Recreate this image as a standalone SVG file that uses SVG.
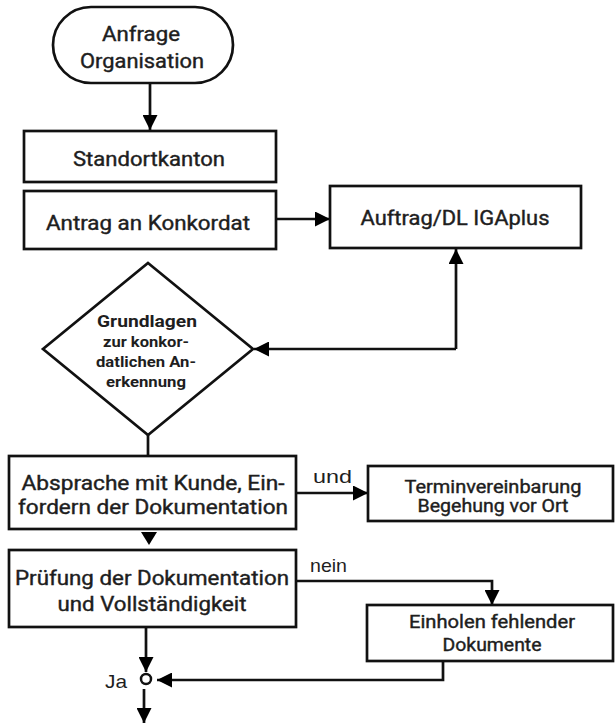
<svg xmlns="http://www.w3.org/2000/svg" width="616" height="724" viewBox="0 0 616 724">
<defs>
<style>
.box{fill:#fff;stroke:#111;stroke-width:2.7}
.t{font-family:Roboto,"Liberation Sans",sans-serif;font-size:20px;font-weight:400;fill:#1e1e1e;stroke:#1e1e1e;stroke-width:0.4;text-anchor:middle}
.s{font-size:18px}
.b{font-family:Roboto,"Liberation Sans",sans-serif;font-weight:bold;fill:#1e1e1e;text-anchor:middle}
.lab{font-family:"Liberation Sans",Arial,sans-serif;font-size:19px;fill:#1e1e1e}
.c{fill:none;stroke:#111;stroke-width:2.7}
</style>
<marker id="ah" markerUnits="userSpaceOnUse" markerWidth="15" markerHeight="15" refX="15" refY="7.5" orient="auto" viewBox="0 0 15 15">
<path d="M0,0 L15,7.5 L0,15 z" fill="#000"/>
</marker>
</defs>
<rect width="616" height="724" fill="#fff"/>

<g id="connectors">
<path class="c" d="M150,83 V130" marker-end="url(#ah)"/>
<path class="c" d="M276,219 H330" marker-end="url(#ah)"/>
<path class="c" d="M456,349 V249" marker-end="url(#ah)"/>
<path class="c" d="M456,349 H254" marker-end="url(#ah)"/>
<path class="c" d="M148,435 V456"/>
<polygon points="141,532 157,532 149,545" fill="#000"/>
<path class="c" d="M296,493 H368" marker-end="url(#ah)"/>
<path class="c" d="M296,581 H492 V605" marker-end="url(#ah)"/>
<path class="c" d="M146,627 V672" marker-end="url(#ah)"/>
<path class="c" d="M443,661 V680 H157" marker-end="url(#ah)"/>
<path class="c" d="M144,689 V723" marker-end="url(#ah)"/>
<circle cx="146" cy="679" r="5" fill="#fff" stroke="#111" stroke-width="2.5"/>
<text class="lab" x="310" y="572" textLength="37" lengthAdjust="spacingAndGlyphs">nein</text>
<text class="lab" x="313" y="483" textLength="39" lengthAdjust="spacingAndGlyphs">und</text>
<text class="lab" x="105" y="688" textLength="22" lengthAdjust="spacingAndGlyphs">Ja</text>
</g>

<g id="anfrage">
<rect class="box" x="53" y="7" width="180" height="76" rx="38" ry="38"/>
<text class="t" x="141" y="41" textLength="78" lengthAdjust="spacingAndGlyphs">Anfrage</text>
<text class="t" x="142" y="68" textLength="124" lengthAdjust="spacingAndGlyphs">Organisation</text>
</g>

<g id="standortkanton">
<rect class="box" x="24" y="131" width="252" height="51"/>
<text class="t" x="149" y="166" textLength="152" lengthAdjust="spacingAndGlyphs">Standortkanton</text>
</g>

<g id="antrag">
<rect class="box" x="24" y="191" width="252" height="58"/>
<text class="t" x="148" y="230" textLength="204" lengthAdjust="spacingAndGlyphs">Antrag an Konkordat</text>
</g>

<g id="auftrag">
<rect class="box" x="330" y="186" width="251" height="62"/>
<text class="t" x="455" y="225" textLength="189" lengthAdjust="spacingAndGlyphs">Auftrag/DL IGAplus</text>
</g>

<g id="grundlagen">
<polygon class="box" points="148,263 253,349 148,435 43,349"/>
<text class="b" x="147" y="327" font-size="17" textLength="100" lengthAdjust="spacingAndGlyphs">Grundlagen</text>
<text class="b" x="146" y="347" font-size="14" textLength="86" lengthAdjust="spacingAndGlyphs">zur konkor-</text>
<text class="b" x="146" y="367" font-size="14" textLength="100" lengthAdjust="spacingAndGlyphs">datlichen An-</text>
<text class="b" x="146" y="387" font-size="14" textLength="80" lengthAdjust="spacingAndGlyphs">erkennung</text>
</g>

<g id="absprache">
<rect class="box" x="9" y="456" width="287" height="73"/>
<text class="t" x="153" y="490" textLength="263" lengthAdjust="spacingAndGlyphs">Absprache mit Kunde, Ein-</text>
<text class="t" x="153" y="514" textLength="270" lengthAdjust="spacingAndGlyphs">fordern der Dokumentation</text>
</g>

<g id="termin">
<rect class="box" x="368" y="466" width="245" height="55"/>
<text class="t s" x="493" y="493" textLength="177" lengthAdjust="spacingAndGlyphs">Terminvereinbarung</text>
<text class="t s" x="493" y="512" textLength="151" lengthAdjust="spacingAndGlyphs">Begehung vor Ort</text>
</g>

<g id="pruefung">
<rect class="box" x="9" y="550" width="287" height="77"/>
<text class="t" x="152" y="585" textLength="274" lengthAdjust="spacingAndGlyphs">Prüfung der Dokumentation</text>
<text class="t" x="152" y="611" textLength="189" lengthAdjust="spacingAndGlyphs">und Vollständigkeit</text>
</g>

<g id="einholen">
<rect class="box" x="367" y="605" width="246" height="56"/>
<text class="t s" x="492" y="628" textLength="166" lengthAdjust="spacingAndGlyphs">Einholen fehlender</text>
<text class="t s" x="492" y="651" textLength="99" lengthAdjust="spacingAndGlyphs">Dokumente</text>
</g>
</svg>
